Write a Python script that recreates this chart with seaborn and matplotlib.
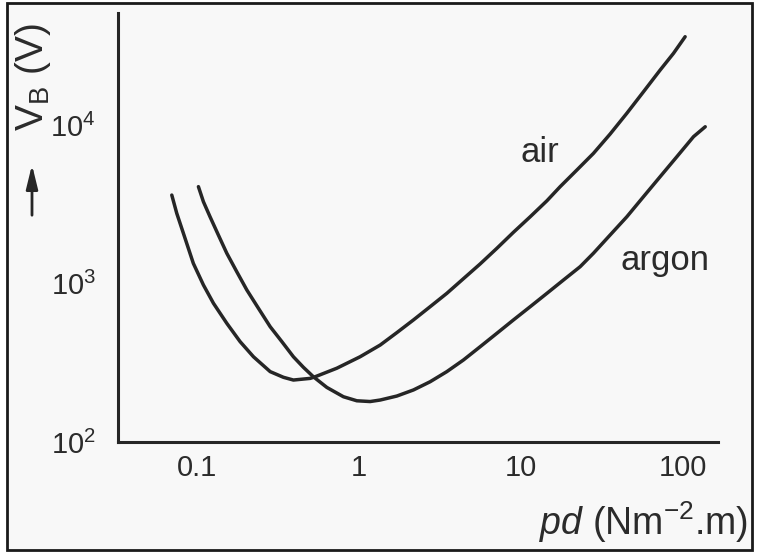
import pandas as pd
import seaborn as sns
import matplotlib.pyplot as plt
from matplotlib.patches import Rectangle

# Paschen curves (pd in N m^-2 m, breakdown voltage in V)
air_pd = [0.0698, 0.0749, 0.0823, 0.0948, 0.1094, 0.1262, 0.1525, 0.1842, 0.2228,
          0.2825, 0.341, 0.393, 0.499, 0.535, 0.728, 1.014, 1.349, 1.710, 2.164,
          2.743, 3.478, 4.40, 5.58, 7.08, 8.96, 11.37, 14.42, 17.41, 22.07, 27.93,
          35.4, 44.9, 56.9, 72.1, 87.1, 102.8]
air_vb = [3614, 2773, 2075, 1340, 979, 750, 561, 430, 345,
          278, 256, 246, 252, 258, 292, 345, 409, 490, 589,
          714, 867, 1072, 1328, 1667, 2104, 2637, 3326, 4084, 5200, 6622,
          8770, 11860, 16220, 22230, 28320, 36060]

argon_pd = [0.1019, 0.1094, 0.1202, 0.1353, 0.1525, 0.1758, 0.2028, 0.2390, 0.2825,
            0.3334, 0.393, 0.453, 0.522, 0.632, 0.800, 0.968, 1.169, 1.349, 1.710,
            2.164, 2.743, 3.478, 4.40, 5.58, 7.08, 8.96, 11.37, 14.42, 18.24, 23.13,
            27.93, 35.4, 44.9, 56.9, 72.1, 91.4, 115.8, 136.8]
argon_vb = [4084, 3281, 2637, 2023, 1552, 1186, 910, 698, 534,
            430, 345, 296, 258, 221, 193, 182, 180, 184, 195,
            213, 240, 278, 329, 399, 485, 589, 714, 867, 1052, 1277,
            1552, 2023, 2637, 3532, 4722, 6310, 8440, 9750]

x_ticks = [0.1, 1, 10, 100]
x_tick_labels = ['0.1', '1', '10', '100']
y_ticks = [100, 1000, 10000]
y_tick_labels = [r'$\mathregular{10^2}$', r'$\mathregular{10^3}$', r'$\mathregular{10^4}$']

ink = '#262626'
text_ink = '#2b2b2b'

sns.set_theme(style='white')
plt.rcParams['font.family'] = ['Liberation Sans', 'DejaVu Sans']
plt.rcParams['mathtext.fontset'] = 'custom'
plt.rcParams['mathtext.rm'] = 'Liberation Sans'
plt.rcParams['mathtext.it'] = 'Liberation Sans:italic'

fig = plt.figure(figsize=(7.58, 5.55), dpi=100, facecolor='white')

# screenshot frame
fig.patches.append(Rectangle((7 / 758, 1 - 550 / 555), 745 / 758, 547 / 555,
                             transform=fig.transFigure, facecolor='#f8f8f8',
                             edgecolor='#1a1a1a', linewidth=2, zorder=-1))

ax = fig.add_axes([118 / 758, 1 - 442 / 555, 600 / 758, 429 / 555])
ax.set_facecolor('none')
ax.set_xscale('log')
ax.set_yscale('log')

df = pd.DataFrame({
    'pd': air_pd + argon_pd,
    'VB': air_vb + argon_vb,
    'gas': ['air'] * len(air_pd) + ['argon'] * len(argon_pd),
})
sns.lineplot(data=df, x='pd', y='VB', hue='gas', estimator=None, legend=False,
             palette={'air': ink, 'argon': ink}, linewidth=2.5, ax=ax)

ax.set_xlim(0.0325, 164)
ax.set_ylim(100, 50900)
ax.set_xticks(x_ticks, x_tick_labels)
ax.set_yticks(y_ticks, y_tick_labels)
ax.minorticks_off()
ax.set_xlabel('')
ax.set_ylabel('')

for side in ['top', 'right']:
    ax.spines[side].set_visible(False)
for side in ['left', 'bottom']:
    ax.spines[side].set_linewidth(2.2)
    ax.spines[side].set_color(ink)

ax.tick_params(axis='both', direction='in', length=9, width=1.6, color=ink,
               labelcolor=text_ink, labelsize=21)
ax.tick_params(axis='y', pad=16)
ax.tick_params(axis='x', pad=9)

ax.text(13.1, 5850, 'air', ha='center', va='baseline', fontsize=25, color=text_ink)
ax.text(77.4, 1217, 'argon', ha='center', va='baseline', fontsize=25, color=text_ink)

fig.text(33 / 758, 1 - 77 / 555, r'$\mathregular{V_B}$ (V)', rotation=90,
         ha='center', va='center', fontsize=28, color=text_ink)
ax.annotate('', xy=(32 / 758, 1 - 162 / 555), xycoords='figure fraction',
            xytext=(32 / 758, 1 - 218 / 555), textcoords='figure fraction',
            arrowprops=dict(arrowstyle='-|>,head_length=0.9,head_width=0.22',
                            color=ink, lw=2, mutation_scale=16))

fig.text(748 / 758, 1 - 535 / 555, r'$\mathit{pd}$ (Nm$^{-2}$.m)', ha='right',
         va='baseline', fontsize=27, color=text_ink)

fig.savefig('out.png', dpi=100, facecolor=fig.get_facecolor())
